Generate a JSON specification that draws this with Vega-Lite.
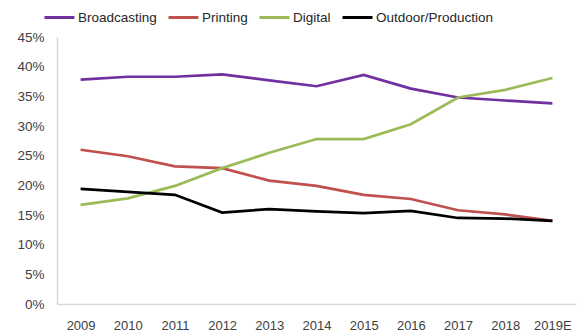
{
  "$schema": "https://vega.github.io/schema/vega-lite/v6.json",
  "width": 519,
  "height": 267,
  "autosize": {"type": "none"},
  "padding": {"left": 57, "top": 37, "right": 11, "bottom": 32},
  "background": "white",
  "config": {
    "font": "Liberation Sans",
    "view": {"stroke": null}
  },
  "data": {
    "values": [
      {"year": "2009", "series": "Broadcasting", "v": 0.378},
      {"year": "2010", "series": "Broadcasting", "v": 0.383},
      {"year": "2011", "series": "Broadcasting", "v": 0.383},
      {"year": "2012", "series": "Broadcasting", "v": 0.387},
      {"year": "2013", "series": "Broadcasting", "v": 0.377},
      {"year": "2014", "series": "Broadcasting", "v": 0.367},
      {"year": "2015", "series": "Broadcasting", "v": 0.386},
      {"year": "2016", "series": "Broadcasting", "v": 0.363},
      {"year": "2017", "series": "Broadcasting", "v": 0.348},
      {"year": "2018", "series": "Broadcasting", "v": 0.343},
      {"year": "2019E", "series": "Broadcasting", "v": 0.338},
      {"year": "2009", "series": "Printing", "v": 0.260},
      {"year": "2010", "series": "Printing", "v": 0.249},
      {"year": "2011", "series": "Printing", "v": 0.232},
      {"year": "2012", "series": "Printing", "v": 0.229},
      {"year": "2013", "series": "Printing", "v": 0.208},
      {"year": "2014", "series": "Printing", "v": 0.199},
      {"year": "2015", "series": "Printing", "v": 0.184},
      {"year": "2016", "series": "Printing", "v": 0.177},
      {"year": "2017", "series": "Printing", "v": 0.158},
      {"year": "2018", "series": "Printing", "v": 0.151},
      {"year": "2019E", "series": "Printing", "v": 0.140},
      {"year": "2009", "series": "Digital", "v": 0.167},
      {"year": "2010", "series": "Digital", "v": 0.178},
      {"year": "2011", "series": "Digital", "v": 0.199},
      {"year": "2012", "series": "Digital", "v": 0.229},
      {"year": "2013", "series": "Digital", "v": 0.255},
      {"year": "2014", "series": "Digital", "v": 0.278},
      {"year": "2015", "series": "Digital", "v": 0.278},
      {"year": "2016", "series": "Digital", "v": 0.303},
      {"year": "2017", "series": "Digital", "v": 0.348},
      {"year": "2018", "series": "Digital", "v": 0.361},
      {"year": "2019E", "series": "Digital", "v": 0.381},
      {"year": "2009", "series": "Outdoor/Production", "v": 0.194},
      {"year": "2010", "series": "Outdoor/Production", "v": 0.189},
      {"year": "2011", "series": "Outdoor/Production", "v": 0.184},
      {"year": "2012", "series": "Outdoor/Production", "v": 0.154},
      {"year": "2013", "series": "Outdoor/Production", "v": 0.160},
      {"year": "2014", "series": "Outdoor/Production", "v": 0.156},
      {"year": "2015", "series": "Outdoor/Production", "v": 0.153},
      {"year": "2016", "series": "Outdoor/Production", "v": 0.157},
      {"year": "2017", "series": "Outdoor/Production", "v": 0.145},
      {"year": "2018", "series": "Outdoor/Production", "v": 0.144},
      {"year": "2019E", "series": "Outdoor/Production", "v": 0.140}
    ]
  },
  "mark": {"type": "line", "strokeWidth": 2.7},
  "encoding": {
    "x": {
      "field": "year",
      "type": "ordinal",
      "scale": {"type": "point", "padding": 0.5},
      "axis": {
        "title": null,
        "labelAngle": 0,
        "ticks": false,
        "labelPadding": 15,
        "labelFontSize": 13,
        "labelColor": "#404040",
        "domainColor": "#d9d9d9",
        "domainWidth": 1.5,
        "grid": false
      }
    },
    "y": {
      "field": "v",
      "type": "quantitative",
      "scale": {"domain": [0, 0.45], "nice": false},
      "axis": {
        "title": null,
        "format": ".0%",
        "values": [0, 0.05, 0.1, 0.15, 0.2, 0.25, 0.3, 0.35, 0.4, 0.45],
        "ticks": false,
        "labelPadding": 13,
        "labelFontSize": 13.5,
        "labelColor": "#404040",
        "domainColor": "#d9d9d9",
        "domainWidth": 1.5,
        "grid": false
      }
    },
    "color": {
      "field": "series",
      "type": "nominal",
      "sort": ["Broadcasting", "Printing", "Digital", "Outdoor/Production"],
      "scale": {
        "domain": ["Broadcasting", "Printing", "Digital", "Outdoor/Production"],
        "range": ["#7030A0", "#C0504D", "#9BBB59", "#000000"]
      },
      "legend": {
        "title": null,
        "orient": "none",
        "legendX": -14,
        "legendY": -36,
        "direction": "horizontal",
        "symbolType": "stroke",
        "symbolStrokeWidth": 3,
        "symbolSize": 900,
        "labelFontSize": 13.5,
        "labelColor": "#262626",
        "columnPadding": 5,
        "labelOffset": 2
      }
    }
  }
}
